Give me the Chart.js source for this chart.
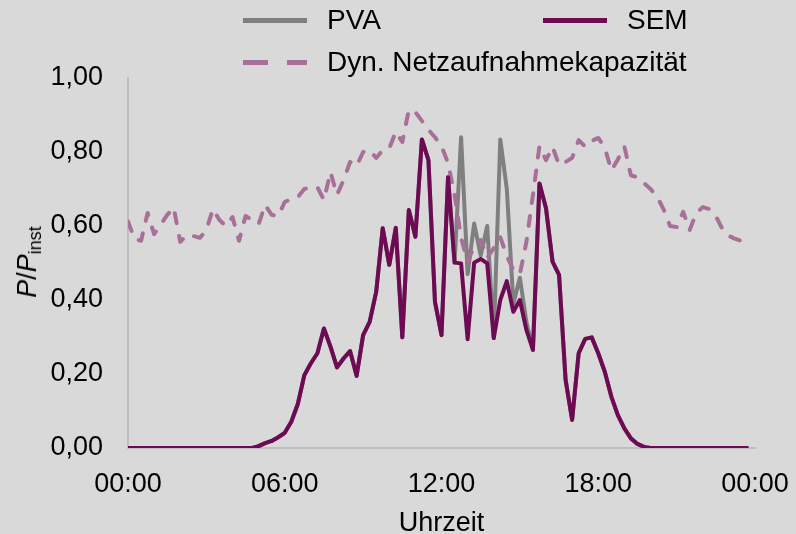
<!DOCTYPE html>
<html lang="de">
<head>
<meta charset="utf-8">
<title>P/Pinst Tagesverlauf</title>
<script src="https://cdn.jsdelivr.net/npm/chart.js@4.4.1/dist/chart.umd.min.js"></script>
<style>
  html, body { margin: 0; padding: 0; background: #d9d9d9; }
  #wrap { position: relative; width: 796px; height: 534px; background: #d9d9d9;
          font-family: "Liberation Sans", Arial, sans-serif; color: #000; }
  canvas { position: absolute; left: 0; top: 0; }
  .leg-line { position: absolute; height: 5px; }
  .leg-text { position: absolute; font-size: 28px; line-height: 30px; white-space: nowrap; }
  #ytitle { position: absolute; left: 29px; top: 262px; font-size: 27px; white-space: nowrap;
            transform: translate(-50%, -50%) rotate(-90deg); }
  #ytitle sub { font-size: 18px; vertical-align: -5px; }
</style>
</head>
<body>
<div id="wrap">
  <canvas id="chart" width="796" height="534"></canvas>

  <!-- Legende -->
  <div class="leg-line" style="left:243px; top:18px; width:64px; background:#7f7f7f"></div>
  <div class="leg-text" style="left:327px; top:5px">PVA</div>
  <div class="leg-line" style="left:543px; top:18px; width:64px; background:#6e0a54"></div>
  <div class="leg-text" style="left:627px; top:5px">SEM</div>
  <div class="leg-line" style="left:243px; top:60px; width:25px; background:#a87098"></div>
  <div class="leg-line" style="left:287px; top:60px; width:20px; background:#a87098"></div>
  <div class="leg-text" style="left:327px; top:47px">Dyn. Netzaufnahmekapazität</div>

  <div id="ytitle"><i>P</i>/<i>P</i><sub>inst</sub></div>
</div>

<script>
// Viertelstundenwerte eines Tages (00:00 - 23:45), bezogen auf P_inst
const pva = [
  0, 0, 0, 0, 0, 0, 0, 0, 0, 0, 0, 0, 0, 0, 0, 0, 0, 0, 0, 0,
  0.005, 0.013, 0.019, 0.029, 0.041, 0.071, 0.119, 0.197, 0.229, 0.256,
  0.323, 0.274, 0.218, 0.242, 0.262, 0.195, 0.305, 0.341, 0.422, 0.594,
  0.495, 0.595, 0.299, 0.643, 0.571, 0.834, 0.778, 0.395, 0.305, 0.732,
  0.501, 0.840, 0.470, 0.607, 0.520, 0.600, 0.297, 0.834, 0.700, 0.390,
  0.460, 0.340, 0.265, 0.715, 0.648, 0.504, 0.468, 0.184, 0.076, 0.256,
  0.295, 0.299, 0.256, 0.206, 0.139, 0.089, 0.053, 0.026, 0.011, 0.003,
  0, 0, 0, 0, 0, 0, 0, 0, 0, 0, 0, 0, 0, 0, 0, 0
];

const sem = [
  0, 0, 0, 0, 0, 0, 0, 0, 0, 0, 0, 0, 0, 0, 0, 0, 0, 0, 0, 0,
  0.005, 0.013, 0.019, 0.029, 0.041, 0.071, 0.119, 0.197, 0.229, 0.256,
  0.323, 0.274, 0.218, 0.242, 0.262, 0.195, 0.305, 0.341, 0.422, 0.594,
  0.495, 0.595, 0.299, 0.643, 0.571, 0.834, 0.778, 0.395, 0.305, 0.732,
  0.501, 0.499, 0.294, 0.501, 0.511, 0.499, 0.297, 0.400, 0.451, 0.368,
  0.400, 0.319, 0.265, 0.715, 0.648, 0.504, 0.468, 0.184, 0.076, 0.256,
  0.295, 0.299, 0.256, 0.206, 0.139, 0.089, 0.053, 0.026, 0.011, 0.003,
  0, 0, 0, 0, 0, 0, 0, 0, 0, 0, 0, 0, 0, 0, 0, 0
];

const kapazitaet = [
  0.612, 0.565, 0.560, 0.635, 0.578, 0.603, 0.630, 0.650, 0.557, 0.576,
  0.573, 0.568, 0.589, 0.646, 0.616, 0.600, 0.624, 0.560, 0.627, 0.616,
  0.605, 0.657, 0.630, 0.627, 0.665, 0.673, 0.678, 0.700, 0.705, 0.705,
  0.670, 0.746, 0.684, 0.724, 0.773, 0.762, 0.800, 0.805, 0.784, 0.805,
  0.810, 0.855, 0.827, 0.914, 0.908, 0.884, 0.860, 0.840, 0.816, 0.770,
  0.684, 0.568, 0.503, 0.546, 0.562, 0.514, 0.540, 0.570, 0.519, 0.481,
  0.470, 0.557, 0.684, 0.816, 0.778, 0.814, 0.765, 0.773, 0.784, 0.832,
  0.814, 0.830, 0.838, 0.812, 0.750, 0.780, 0.815, 0.737, 0.732, 0.716,
  0.700, 0.680, 0.645, 0.600, 0.597, 0.638, 0.589, 0.635, 0.651, 0.646,
  0.627, 0.592, 0.573, 0.565, 0.559, 0.568
];

// Uhrzeit in Stunden, Raster 15 min
const stunden = pva.map((_, i) => i / 4);
const xTicks = [0, 6, 12, 18, 24];
const yTicks = [0, 0.2, 0.4, 0.6, 0.8, 1.0];

const toPoints = arr => arr.map((v, i) => ({ x: stunden[i], y: v }));
const fmtZeit = h => String(h % 24).padStart(2, "0") + ":00";
const fmtWert = v => v.toFixed(2).replace(".", ",");

const tickFont = { family: "'Liberation Sans', Arial, sans-serif", size: 27 };

new Chart(document.getElementById("chart"), {
  type: "line",
  data: {
    datasets: [
      {
        label: "SEM",
        data: toPoints(sem),
        borderColor: "#6e0a54",
        borderWidth: 4,
        order: 0
      },
      {
        label: "Dyn. Netzaufnahmekapazität",
        data: toPoints(kapazitaet),
        borderColor: "#a87098",
        borderWidth: 4,
        borderDash: [10, 13],
        borderCapStyle: "round",
        order: 1
      },
      {
        label: "PVA",
        data: toPoints(pva),
        borderColor: "#7f7f7f",
        borderWidth: 4,
        order: 2
      }
    ]
  },
  options: {
    responsive: false,
    animation: false,
    events: [],
    elements: {
      point: { radius: 0 },
      line: { tension: 0, borderJoinStyle: "round" }
    },
    layout: { padding: { top: 78, right: 41, left: 0, bottom: 0 } },
    plugins: {
      legend: { display: false },
      tooltip: { enabled: false }
    },
    scales: {
      x: {
        type: "linear",
        min: 0,
        max: 24,
        afterFit: s => {
          s.height = 86;
          // Beschriftung darf über den Plotbereich hinausragen
          s.paddingLeft = 0;
          s.paddingRight = 0;
        },
        afterBuildTicks: s => { s.ticks = xTicks.map(v => ({ value: v })); },
        grid: { display: false, drawTicks: false },
        border: { display: true, color: "#bfbfbf", width: 2 },
        ticks: {
          color: "#000",
          font: tickFont,
          padding: 20,
          maxRotation: 0,
          autoSkip: false,
          callback: v => fmtZeit(v)
        },
        title: {
          display: true,
          text: "Uhrzeit",
          color: "#000",
          font: tickFont,
          padding: { top: 0, bottom: -6 }
        }
      },
      y: {
        min: 0,
        max: 1,
        afterFit: s => { s.width = 128; },
        afterBuildTicks: s => { s.ticks = yTicks.map(v => ({ value: v })); },
        grid: { display: false, drawTicks: false },
        border: { display: true, color: "#bfbfbf", width: 2 },
        ticks: {
          color: "#000",
          font: tickFont,
          padding: 25,
          callback: v => fmtWert(v)
        }
      }
    }
  }
});
</script>
</body>
</html>
